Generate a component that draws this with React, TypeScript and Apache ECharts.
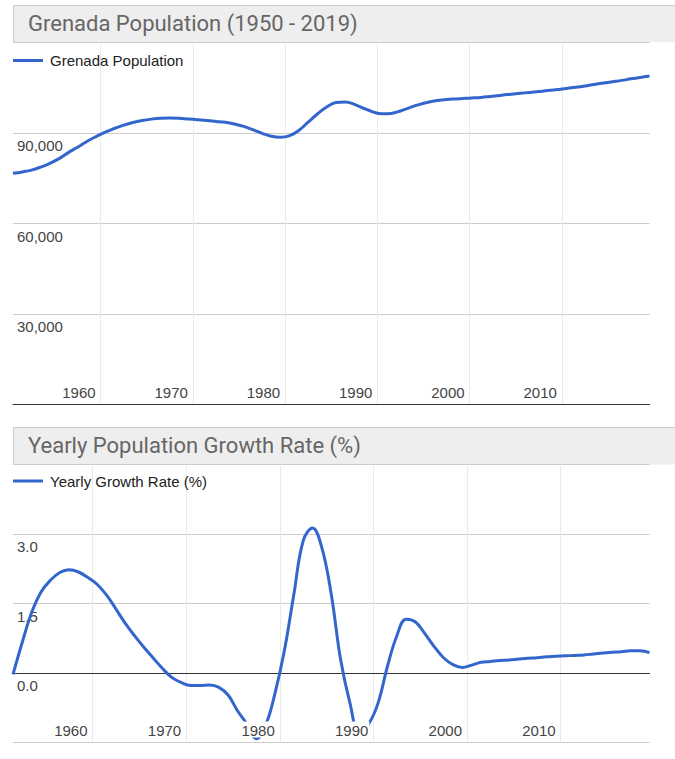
import { useEffect, useRef } from "react";
import * as echarts from "echarts";

// Grenada mid-year population, 1950 – 2019
const POP_START = 1950;
const population = [
  76650, 77100, 77700, 78700, 79950, 81500, 83500, 85300, 87200, 88800,
  90300, 91500, 92600, 93500, 94150, 94600, 94900, 95000, 94900, 94650,
  94400, 94150, 93850, 93550, 93000, 92200, 91100, 89900, 88900, 88550,
  89100, 90900, 93600, 96300, 98600, 100100, 100300, 99500, 98200, 97000,
  96350, 96500, 97300, 98400, 99400, 100200, 100750, 101100, 101300, 101480,
  101650, 101900, 102200, 102550, 102850, 103150, 103450, 103750, 104050, 104400,
  104750, 105150, 105600, 106100, 106550, 107000, 107450, 107950, 108400, 108900,
];

// Yearly growth rate (%), 1951 – 2019
const GROWTH_START = 1951;
const growthRate = [
  -0.03, 0.67, 1.31, 1.75, 2.0, 2.17, 2.23, 2.18, 2.06,
  1.91, 1.68, 1.38, 1.07, 0.8, 0.55, 0.32, 0.09, -0.1, -0.21,
  -0.27, -0.27, -0.26, -0.31, -0.48, -0.82, -1.1, -1.42, -1.12, -0.43,
  0.49, 1.69, 2.85, 3.13, 2.7, 1.7, 0.29, -0.65, -1.3, -1.1,
  -0.65, 0.14, 0.8, 1.16, 1.1, 0.85, 0.57, 0.33, 0.18, 0.12,
  0.17, 0.23, 0.25, 0.27, 0.28, 0.3, 0.32, 0.33, 0.35, 0.36,
  0.37, 0.38, 0.39, 0.41, 0.43, 0.45, 0.46, 0.48, 0.48, 0.44,
];

const decadeTicks = [1960, 1970, 1980, 1990, 2000, 2010];
const popTicks = [0, 30000, 60000, 90000, 120000];
const rateTicks = [-1.5, 0, 1.5, 3, 4.5];

const POP_TITLE = "Grenada Population (1950 - 2019)";
const POP_LEGEND = "Grenada Population";
const RATE_TITLE = "Yearly Population Growth Rate (%)";
const RATE_LEGEND = "Yearly Growth Rate (%)";

const FONT = '"Liberation Sans", Arial, sans-serif';
const TITLE_FONT = "Roboto, Arial, sans-serif";
const BLUE = "#3366cc";

// values are mid-year estimates, so each point sits half a year after its year mark
const popPoints = population.map((v, i) => [POP_START + i + 0.5, v]);
const ratePoints = growthRate.map((v, i) => [GROWTH_START + i + 0.5, v]);

function xAxesFor(gridIndex: number, min: number, max: number) {
  return [
    {
      // decade grid lines and the zero baseline
      type: "value",
      gridIndex,
      min,
      max,
      z: 1,
      position: "bottom",
      axisLine: { show: true, onZero: true, lineStyle: { color: "#333333", width: 1 } },
      axisTick: { show: false, customValues: decadeTicks },
      axisLabel: { show: false },
      splitLine: { show: true, lineStyle: { color: "#ebebeb", width: 1 } },
    },
    {
      // decade labels, drawn above the line
      type: "value",
      gridIndex,
      min,
      max,
      z: 5,
      position: "bottom",
      axisLine: { show: false, onZero: false },
      axisTick: { show: false },
      splitLine: { show: false },
      axisLabel: {
        customValues: decadeTicks,
        inside: true,
        margin: 5,
        align: "right",
        padding: [0, 4, 0, 0],
        formatter: (v: number) => `{t|${v}}`,
        rich: {
          t: {
            fontSize: 15,
            fontFamily: FONT,
            color: "#444444",
            backgroundColor: "#ffffff",
            padding: [1, 1, 0, 1],
          },
        },
      },
    },
  ];
}

function yAxisFor(gridIndex: number, ticks: number[], fmt: (v: number) => string) {
  return {
    type: "value",
    gridIndex,
    min: ticks[0],
    max: ticks[ticks.length - 1],
    interval: ticks[1] - ticks[0],
    position: "left",
    axisLine: { show: false },
    axisTick: { show: false },
    axisLabel: {
      inside: true,
      margin: 4,
      showMinLabel: false,
      showMaxLabel: false,
      verticalAlign: "top",
      padding: [5, 0, 0, 0],
      fontSize: 15,
      fontFamily: FONT,
      color: "#444444",
      formatter: fmt,
    },
    splitLine: { show: true, lineStyle: { color: "#cccccc", width: 1 } },
  };
}

function titleBar(top: number, height: number, text: string) {
  return [
    {
      type: "rect",
      silent: true,
      shape: { x: 13, y: top, width: 662, height },
      style: { fill: "#eeeeee" },
    },
    {
      type: "polyline",
      silent: true,
      shape: { points: [[13.5, top + height], [13.5, top + 0.5], [675, top + 0.5]] },
      style: { stroke: "#cccccc", lineWidth: 1, fill: null },
    },
    {
      type: "text",
      silent: true,
      x: 28,
      y: top + height / 2,
      style: {
        text,
        fontSize: 22,
        fontFamily: TITLE_FONT,
        fill: "#666666",
        verticalAlign: "middle",
        align: "left",
      },
    },
  ];
}

function legendFor(name: string, top: number) {
  return {
    data: [name],
    left: 13,
    top,
    padding: 0,
    icon: "rect",
    itemWidth: 30,
    itemHeight: 3,
    selectedMode: false,
    textStyle: { fontSize: 15, fontFamily: FONT, color: "#222222", padding: [0, 0, 0, 2] },
  };
}

export default function App() {
  const ref = useRef<HTMLDivElement>(null);

  useEffect(() => {
    if (!ref.current) return;
    const chart = echarts.init(ref.current, undefined, { renderer: "svg" });

    const option = {
      animation: false,
      backgroundColor: "#ffffff",
      grid: [
        { left: 13, top: 42.5, width: 636.5, height: 362 },
        { left: 13, top: 464.5, width: 636.5, height: 278 },
      ],
      xAxis: [
        ...xAxesFor(0, POP_START + 0.5, POP_START + population.length - 0.5),
        ...xAxesFor(1, GROWTH_START + 0.5, GROWTH_START + growthRate.length - 0.5),
      ],
      yAxis: [
        yAxisFor(0, popTicks, (v: number) => v.toLocaleString("en-US")),
        yAxisFor(1, rateTicks, (v: number) => v.toFixed(1)),
      ],
      legend: [legendFor(POP_LEGEND, 53), legendFor(RATE_LEGEND, 473.5)],
      graphic: [...titleBar(5, 37, POP_TITLE), ...titleBar(427, 37.5, RATE_TITLE)],
      series: [
        {
          name: POP_LEGEND,
          type: "line",
          xAxisIndex: 0,
          yAxisIndex: 0,
          data: popPoints,
          smooth: 0.4,
          showSymbol: false,
          color: BLUE,
          itemStyle: { color: BLUE },
          lineStyle: { color: BLUE, width: 3 },
          emphasis: { disabled: true },
          silent: true,
        },
        {
          name: RATE_LEGEND,
          type: "line",
          xAxisIndex: 2,
          yAxisIndex: 1,
          data: ratePoints,
          smooth: 0.4,
          showSymbol: false,
          clip: true,
          color: BLUE,
          itemStyle: { color: BLUE },
          lineStyle: { color: BLUE, width: 3 },
          emphasis: { disabled: true },
          silent: true,
        },
      ],
    };

    chart.setOption(option as any);
    return () => chart.dispose();
  }, []);

  return (
    <div
      ref={ref}
      style={{ position: "absolute", left: 0, top: 0, width: 675, height: 759, background: "#fff" }}
    />
  );
}
